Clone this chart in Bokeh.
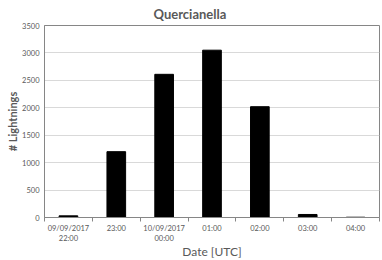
from bokeh.plotting import figure
from bokeh.models import FixedTicker, Range1d, ColumnDataSource
from bokeh.embed import file_html
from bokeh.resources import INLINE

# Data
categories = ["09/09/2017\n22:00", "23:00", "10/09/2017\n00:00", "01:00", "02:00", "03:00", "04:00"]
lightnings = [30, 1200, 2610, 3050, 2020, 55, 5]
y_ticks = [0, 500, 1000, 1500, 2000, 2500, 3000, 3500]

x_centers = [i + 0.5 for i in range(len(categories))]
boundaries = list(range(len(categories) + 1))

src = ColumnDataSource(dict(x=x_centers, top=lightnings))

FONT = "Lato"
GRAY = "#595959"

p = figure(frame_width=335, frame_height=192, output_backend="svg", toolbar_location=None,
           x_range=Range1d(0, len(categories)), y_range=Range1d(0, 3500),
           title="Quercianella")
p.min_border_left = 44
p.min_border_right = 1
p.min_border_top = 22
p.min_border_bottom = 0

p.vbar(x="x", top="top", width=0.39, source=src, color="black")

p.title.align = "left"
p.title.offset = 109
p.title.text_font = FONT
p.title.text_font_size = "13px"
p.title.text_font_style = "bold"
p.title.text_color = GRAY
p.title.standoff = 7

p.xaxis.ticker = FixedTicker(ticks=x_centers, minor_ticks=boundaries)
p.xaxis.major_label_overrides = {x: c for x, c in zip(x_centers, categories)}
p.xaxis.major_tick_line_color = None
p.xaxis.major_tick_out = 0
p.xaxis.major_tick_in = 0
p.xaxis.minor_tick_out = 4
p.xaxis.minor_tick_in = 0
p.xaxis.minor_tick_line_color = "#868686"
p.xaxis.axis_line_color = "#868686"
p.xaxis.major_label_text_font = FONT
p.xaxis.major_label_text_font_size = "7.5px"
p.xaxis.major_label_text_color = GRAY
p.xaxis.major_label_standoff = 2
p.xaxis.axis_label = "Date [UTC]"
p.xaxis.axis_label_text_font = FONT
p.xaxis.axis_label_text_font_size = "12px"
p.xaxis.axis_label_text_font_style = "normal"
p.xaxis.axis_label_text_color = GRAY
p.xaxis.axis_label_standoff = -2

p.yaxis.ticker = FixedTicker(ticks=y_ticks)
p.yaxis.major_tick_line_color = None
p.yaxis.major_tick_out = 0
p.yaxis.major_tick_in = 0
p.yaxis.minor_tick_line_color = None
p.yaxis.axis_line_color = "#868686"
p.yaxis.major_label_text_font = FONT
p.yaxis.major_label_text_font_size = "7.5px"
p.yaxis.major_label_text_color = GRAY
p.yaxis.major_label_standoff = 5
p.yaxis.axis_label = "# Lightnings"
p.yaxis.axis_label_text_font = FONT
p.yaxis.axis_label_text_font_size = "11px"
p.yaxis.axis_label_text_font_style = "bold"
p.yaxis.axis_label_text_color = GRAY
p.yaxis.axis_label_standoff = 0

p.xgrid.grid_line_color = None
p.ygrid.grid_line_color = "#d9d9d9"
p.outline_line_color = "#868686"
p.background_fill_color = "white"
p.border_fill_color = "white"

open("out.html", "w").write(file_html(p, INLINE))
